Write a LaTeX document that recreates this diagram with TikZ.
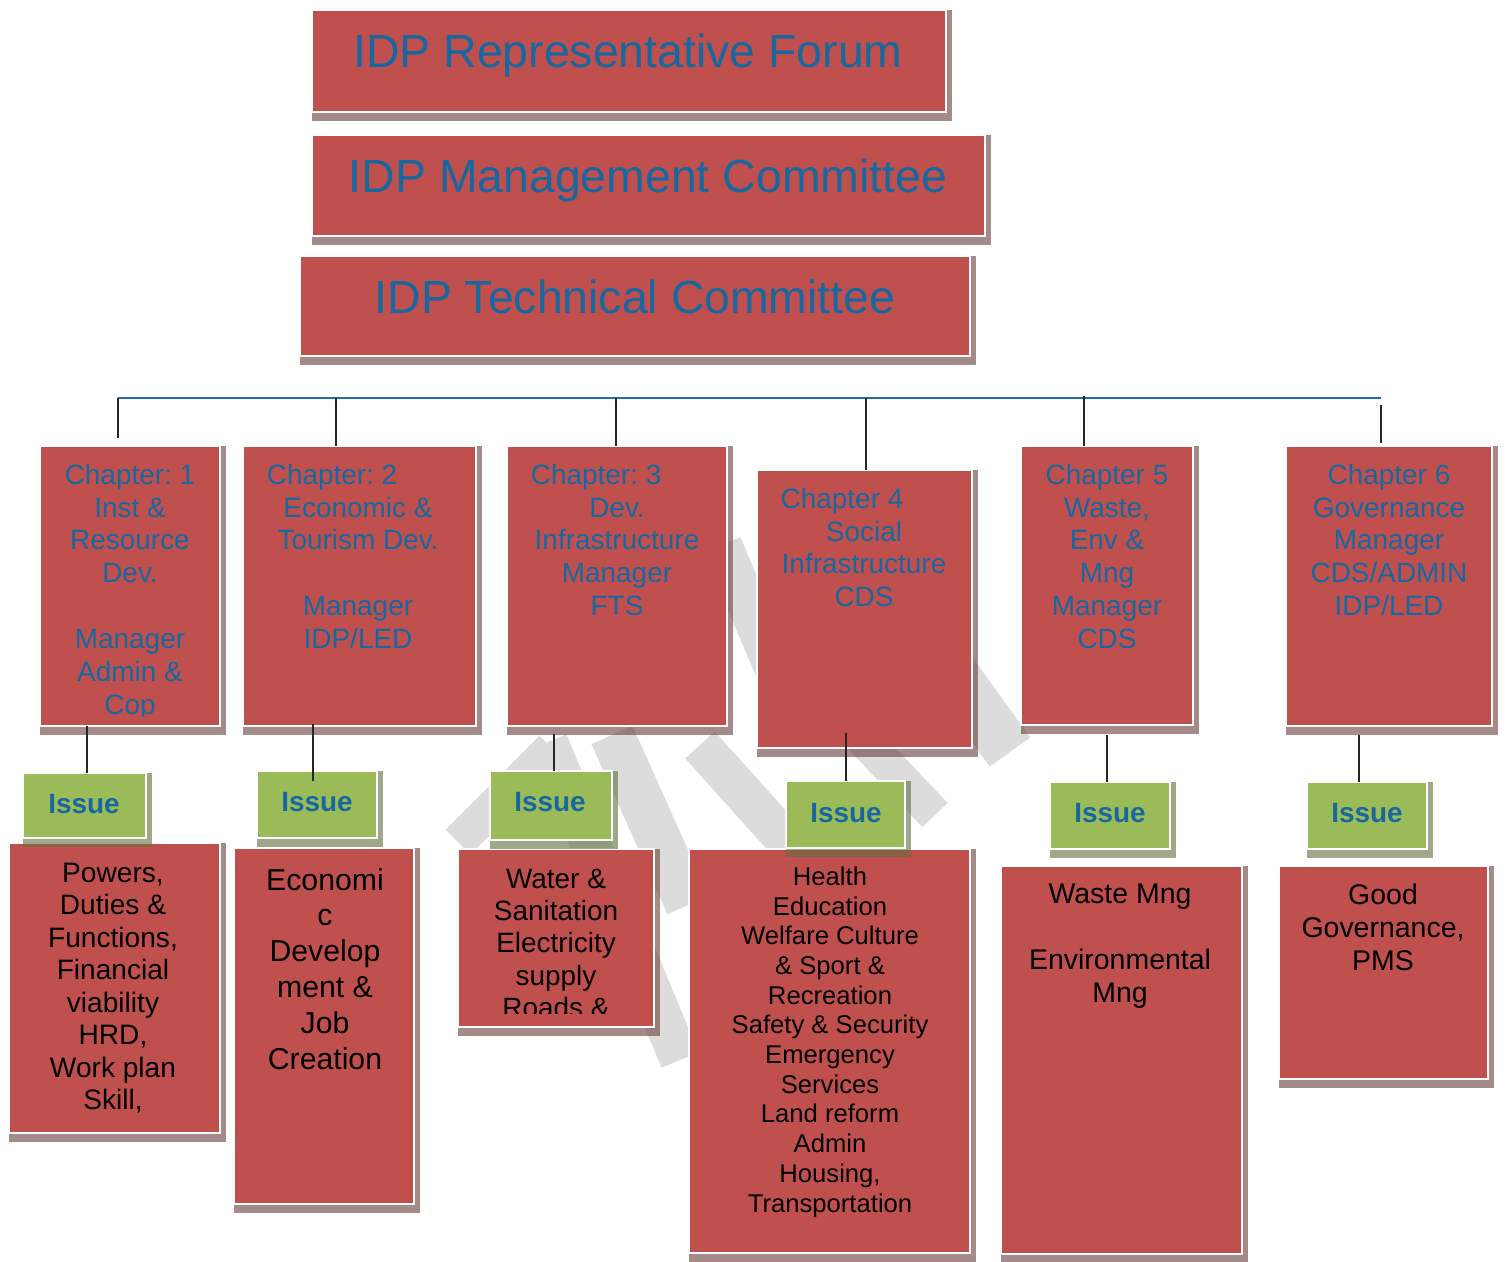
\documentclass[tikz,border=0pt]{standalone}
\usepackage{fontspec}
\setmainfont{Liberation Sans}
\usetikzlibrary{fit}
\definecolor{boxred}{RGB}{192,80,77}
\definecolor{boxgreen}{RGB}{155,187,89}
\definecolor{txtblue}{RGB}{23,104,160}
\definecolor{busblue}{RGB}{31,110,170}
\definecolor{wmgray}{RGB}{220,220,220}
\definecolor{redshad}{RGB}{105,60,60}
\definecolor{greenshad}{RGB}{97,110,63}
\newcommand\mybox[6]{%
  \fill[#6shadow] (#2,#3) rectangle (#4+6,#5+9);
  \node[#6box,fit={(#2,#3)(#4,#5)}] (#1) {};
}
\frenchspacing
\begin{document}
\frenchspacing
\begin{tikzpicture}[x=0.02cm,y=-0.02cm,
  redbox/.style={fill=boxred,draw=white,line width=1pt,inner sep=0pt,outer sep=0pt},
  greenbox/.style={fill=boxgreen,draw=white,line width=1pt,inner sep=0pt,outer sep=0pt},
  redshadow/.style={fill=redshad,opacity=0.6},
  greenshadow/.style={fill=greenshad,opacity=0.6},
  wm/.style={draw=wmgray,line width=0.8cm},
  title/.style={text=txtblue,font=\fontsize{26.4}{30}\selectfont,anchor=base,inner sep=0pt},
  chtext/.style={text=txtblue,font=\fontsize{15.9}{18.7}\selectfont\frenchspacing,anchor=north,align=center,inner sep=0pt},
  issuetext/.style={text=txtblue,font=\bfseries\fontsize{15.9}{18.7}\selectfont,anchor=base,inner sep=0pt},
  btext/.style={text=black,anchor=north,align=center,inner sep=0pt},
  bus/.style={draw=busblue,line width=0.7pt},
  conn/.style={draw=black!85,line width=0.6pt}]
\useasboundingbox (0,0) rectangle (1506,1261);
% watermark (partly hidden behind the boxes)
\draw[wm,line width=0.7cm] (458,842) -- (552,748);
\draw[wm] (548,742) -- (680,1060);
\draw[wm,line width=0.9cm] (612,735) -- (688,905);
\draw[wm] (700,745) -- (790,845);
\draw[wm,line width=0.7cm] (840,715) -- (935,815);
\draw[wm,line width=1cm] (900,600) -- (1010,752);
\draw[wm] (722,545) -- (790,705);
% titles
\mybox{t1}{312}{10}{946}{112}{red}
\mybox{t2}{312}{135}{985}{236}{red}
\mybox{t3}{300}{256}{970}{356}{red}
\node[title] (t1t) at (628,67) {IDP Representative Forum};
\node[title] (t2t) at (648,192) {IDP Management Committee};
\node[title] (t3t) at (635,313) {IDP Technical Committee};
% chapters
\mybox{ch1}{40}{446}{220}{726}{red}
\mybox{ch2}{243}{446}{476}{726}{red}
\mybox{ch3}{507}{446}{727}{726}{red}
\mybox{ch4}{757}{470}{972}{748}{red}
\mybox{ch5}{1021}{446}{1193}{725}{red}
\mybox{ch6}{1286}{446}{1492}{726}{red}
\begin{scope}
\clip (40,446) rectangle (220,716);
\node[chtext] (ch1t) at (130,463.6) {Chapter: 1\\Inst \&\\Resource\\Dev.\\[18.7pt]Manager\\Admin \&\\Cop};
\end{scope}
\node[chtext] (ch2t) at (358,463.6) {Chapter: 2\rule{29.5pt}{0pt}\\Economic \&\\Tourism Dev.\\[18.7pt]Manager\\IDP/LED};
\node[chtext] (ch3t) at (617,463.6) {Chapter: 3\rule{23.8pt}{0pt}\\Dev.\\Infrastructure\\Manager\\FTS};
\node[chtext] (ch4t) at (864,487.6) {Chapter 4\rule{25pt}{0pt}\\Social\\Infrastructure\\CDS};
\node[chtext] (ch5t) at (1107,463.6) {Chapter 5\\Waste,\\Env \&\\Mng\\Manager\\CDS};
\node[chtext] (ch6t) at (1389,463.6) {Chapter 6\\Governance\\Manager\\CDS/ADMIN\\IDP/LED};
% bottom boxes
\mybox{b1}{9}{843}{220}{1133}{red}
\mybox{b2}{234}{848}{414}{1204}{red}
\mybox{b3}{458}{849}{654}{1027}{red}
\mybox{b4}{689}{849}{970}{1253}{red}
\mybox{b5}{1001}{866}{1242}{1254}{red}
\mybox{b6}{1279}{866}{1488}{1079}{red}
\node[btext,font=\fontsize{16}{18.5}\selectfont] (b1t) at (113,862.6) {Powers,\\Duties \&\\Functions,\\Financial\\viability\\HRD,\\Work plan\\Skill,};
\node[btext,font=\fontsize{17.2}{20.4}\selectfont] (b2t) at (325,867.8) {Economi\\c\\Develop\\ment \&\\Job\\Creation};
\begin{scope}
\clip (458,849) rectangle (654,1013);
\node[btext,font=\fontsize{15.9}{18.4}\selectfont] (b3t) at (556,868.6) {Water \&\\Sanitation\\Electricity\\supply\\Roads \&};
\end{scope}
\node[btext,font=\fontsize{14.6}{16.9}\selectfont] (b4t) at (830,866.5) {Health\\Education\\Welfare Culture\\\& Sport \&\\Recreation\\Safety \& Security\\Emergency\\Services\\Land reform\\Admin\\Housing,\\Transportation};
\node[btext,font=\fontsize{16.2}{18.7}\selectfont] (b5t) at (1120,883.5) {Waste Mng\\[18.7pt]Environmental\\Mng};
\node[btext,font=\fontsize{16.2}{18.7}\selectfont] (b6t) at (1383,883.5) {Good\\Governance,\\PMS};
% issue boxes
\mybox{i1}{23}{773}{146}{838}{green}
\mybox{i2}{257}{771}{377}{838}{green}
\mybox{i3}{490}{771}{612}{840}{green}
\mybox{i4}{786}{781}{905}{848}{green}
\mybox{i5}{1050}{782}{1170}{849}{green}
\mybox{i6}{1307}{782}{1427}{849}{green}
\node[issuetext] (i1t) at (84,813) {Issue};
\node[issuetext] (i2t) at (317,811) {Issue};
\node[issuetext] (i3t) at (550,811) {Issue};
\node[issuetext] (i4t) at (846,822) {Issue};
\node[issuetext] (i5t) at (1110,822) {Issue};
\node[issuetext] (i6t) at (1367,822) {Issue};
% bus and connectors
\coordinate (v1) at (118,398);
\coordinate (v2) at (336,398);
\coordinate (v3) at (616,398);
\coordinate (v4) at (866,398);
\coordinate (v5) at (1084,398);
\coordinate (v6) at (1381,398);
\draw[bus] (v1) -- (v6);
\draw[conn] (v1) -- ([yshift=0.16cm]ch1.north -| v1);
\draw[conn] (v2) -- (ch2.north -| v2);
\draw[conn] (v3) -- (ch3.north -| v3);
\draw[conn] (v4) -- (ch4.north -| v4);
\draw[conn] ([yshift=0.04cm]v5) -- (ch5.north -| v5);
\draw[conn] ([yshift=-0.14cm]v6) -- ([yshift=0.06cm]ch6.north -| v6);
\coordinate (d1) at (87,0);
\coordinate (d2) at (313,0);
\coordinate (d3) at (554,0);
\coordinate (d4) at (846,0);
\coordinate (d5) at (1107,0);
\coordinate (d6) at (1359,0);
\draw[conn] (ch1.south -| d1) -- (i1.north -| d1);
\draw[conn] ([yshift=0.04cm]ch2.south -| d2) -- ([yshift=-0.2cm]i2.north -| d2);
\draw[conn] ([yshift=-0.16cm]ch3.south -| d3) -- (i3.north -| d3);
\draw[conn] ([yshift=0.3cm]ch4.south -| d4) -- (i4.north -| d4);
\draw[conn] ([yshift=-0.2cm]ch5.south -| d5) -- (i5.north -| d5);
\draw[conn] ([yshift=-0.18cm]ch6.south -| d6) -- (i6.north -| d6);
\end{tikzpicture}
\end{document}
